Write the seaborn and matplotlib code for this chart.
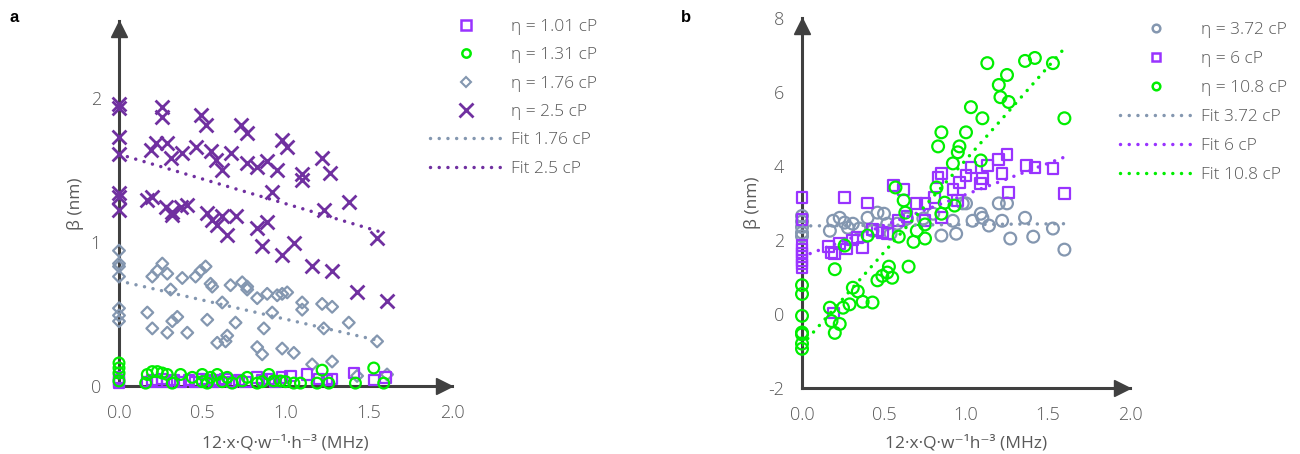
import numpy as np
import matplotlib
matplotlib.use("Agg")
import matplotlib.pyplot as plt
import matplotlib.transforms as mtransforms
from matplotlib.lines import Line2D
import seaborn as sns

# ---------------- data: panel a ----------------
a101_x = [0, 0, 0, 0, 0.17, 0.20, 0.23, 0.26, 0.29, 0.33, 0.37, 0.42, 0.46, 0.50, 0.53, 0.57, 0.60,
          0.64, 0.68, 0.72, 0.76, 0.83, 0.86, 0.90, 0.94, 0.98, 1.03, 1.13, 1.20, 1.25, 1.28, 1.41, 1.53, 1.60]
a101_y = [0.02, 0.04, 0.06, 0.03, 0.03, 0.04, 0.03, 0.05, 0.03, 0.04, 0.03, 0.04, 0.03, 0.05, 0.04, 0.03, 0.04,
          0.05, 0.03, 0.04, 0.03, 0.06, 0.04, 0.05, 0.03, 0.06, 0.07, 0.08, 0.05, 0.04, 0.05, 0.09, 0.04, 0.06]

a131_x = [0, 0, 0, 0, 0.16, 0.17, 0.20, 0.23, 0.26, 0.29, 0.32, 0.37, 0.44, 0.50, 0.50, 0.53, 0.55, 0.59, 0.62,
          0.65, 0.68, 0.74, 0.77, 0.83, 0.86, 0.90, 0.93, 0.97, 1.00, 1.05, 1.09, 1.19, 1.22, 1.26, 1.42, 1.53, 1.59]
a131_y = [0.16, 0.125, 0.09, 0.035, 0.02, 0.08, 0.10, 0.10, 0.09, 0.08, 0.02, 0.08, 0.06, 0.08, 0.03, 0.02, 0.06,
          0.08, 0.03, 0.06, 0.02, 0.035, 0.06, 0.02, 0.03, 0.08, 0.035, 0.035, 0.03, 0.02, 0.02, 0.02, 0.11, 0.02,
          0.02, 0.125, 0.02]

a176_x = [0, 0, 0, 0, 0, 0, 0, 0.17, 0.20, 0.20, 0.23, 0.26, 0.29, 0.29, 0.31, 0.32, 0.35, 0.38, 0.41, 0.46,
          0.49, 0.52, 0.53, 0.55, 0.56, 0.59, 0.62, 0.64, 0.65, 0.67, 0.70, 0.74, 0.77, 0.77, 0.83, 0.83, 0.86,
          0.87, 0.89, 0.92, 0.95, 0.98, 0.98, 1.01, 1.05, 1.10, 1.10, 1.16, 1.22, 1.23, 1.28, 1.28, 1.38, 1.43,
          1.55, 1.61]
a176_y = [0.94, 0.85, 0.83, 0.76, 0.54, 0.49, 0.45, 0.51, 0.76, 0.40, 0.80, 0.85, 0.78, 0.37, 0.67, 0.45, 0.48,
          0.75, 0.37, 0.76, 0.80, 0.83, 0.46, 0.71, 0.69, 0.30, 0.58, 0.31, 0.35, 0.70, 0.44, 0.72, 0.69, 0.67,
          0.61, 0.27, 0.22, 0.40, 0.64, 0.51, 0.63, 0.26, 0.64, 0.65, 0.23, 0.58, 0.53, 0.15, 0.57, 0.40, 0.55,
          0.17, 0.44, 0.07, 0.31, 0.08]

a25_x = [0, 0, 0, 0, 0, 0, 0, 0.19, 0.22, 0.26, 0.26, 0.29, 0.31, 0.38, 0.46, 0.49, 0.52, 0.55, 0.58, 0.62,
         0.67, 0.73, 0.77, 0.77, 0.83, 0.89, 0.95, 0.98, 1.01, 1.10, 1.10, 1.22, 1.27, 0.92, 0.17, 0.20, 0.28,
         0.32, 0.32, 0.37, 0.41, 0.53, 0.56, 0.59, 0.62, 0.65, 0.70, 0.83, 0.89, 0.86, 0.98, 1.05, 1.16, 1.23,
         1.28, 1.38, 1.43, 1.55, 1.61]
a25_y = [1.96, 1.93, 1.73, 1.61, 1.34, 1.31, 1.22, 1.64, 1.69, 1.94, 1.87, 1.69, 1.58, 1.62, 1.66, 1.88, 1.81,
         1.63, 1.57, 1.50, 1.62, 1.81, 1.76, 1.55, 1.52, 1.56, 1.50, 1.71, 1.66, 1.47, 1.43, 1.58, 1.48, 1.35,
         1.29, 1.31, 1.24, 1.21, 1.19, 1.24, 1.26, 1.20, 1.15, 1.12, 1.18, 1.05, 1.18, 1.10, 1.14, 0.97, 0.91,
         0.99, 0.83, 1.22, 0.80, 1.28, 0.65, 1.03, 0.59]

fit_a176_x = [0.0, 1.58]
fit_a176_y = [0.73, 0.31]
fit_a25_x = [0.0, 1.60]
fit_a25_y = [1.61, 1.06]

# ---------------- data: panel b ----------------
b372_x = [0, 0, 0, 0, 0, 0.17, 0.19, 0.23, 0.26, 0.28, 0.31, 0.35, 0.40, 0.43, 0.46, 0.50, 0.52, 0.54, 0.58,
          0.64, 0.74, 0.80, 0.85, 0.92, 0.94, 0.98, 1.00, 1.04, 1.09, 1.10, 1.14, 1.20, 1.22, 1.25, 1.27, 1.36,
          1.41, 1.53, 1.60]
b372_y = [2.65, 2.50, 2.35, 2.20, 2.10, 2.25, 2.52, 2.60, 2.47, 2.33, 2.44, 2.31, 2.60, 2.25, 2.74, 2.71, 2.44,
          2.17, 2.44, 2.58, 2.58, 2.71, 2.12, 2.52, 2.17, 2.99, 2.99, 2.52, 2.71, 2.60, 2.39, 2.99, 2.52, 2.99,
          2.04, 2.60, 2.09, 2.31, 1.74]

b6_x = [0, 0, 0, 0, 0, 0, 0, 0, 0, 0.16, 0.18, 0.20, 0.19, 0.23, 0.26, 0.27, 0.31, 0.34, 0.37, 0.40, 0.43,
        0.46, 0.49, 0.52, 0.56, 0.59, 0.62, 0.64, 0.70, 0.75, 0.75, 0.81, 0.83, 0.85, 0.85, 0.92, 0.95, 0.96,
        1.00, 1.03, 1.09, 1.10, 1.13, 1.20, 1.22, 1.25, 1.26, 1.37, 1.42, 1.53, 1.60]
b6_y = [3.15, 2.55, 1.85, 1.75, 1.65, 1.55, 1.45, 1.35, 1.25, 1.82, 1.66, 1.63, 0.03, 1.90, 3.15, 1.76, 2.00,
        2.06, 1.79, 3.00, 2.28, 2.25, 2.20, 2.17, 3.47, 2.52, 3.37, 2.63, 2.98, 2.98, 2.52, 3.15, 3.69, 3.80,
        2.60, 3.37, 3.07, 3.56, 3.74, 3.96, 3.53, 3.66, 4.02, 4.18, 3.80, 4.31, 3.28, 4.02, 3.96, 3.93, 3.26]

b108_x = [0, 0, 0, 0, 0, 0, 0, 0.17, 0.18, 0.20, 0.20, 0.23, 0.25, 0.26, 0.29, 0.31, 0.34, 0.37, 0.40, 0.43,
          0.46, 0.49, 0.52, 0.53, 0.55, 0.57, 0.59, 0.62, 0.63, 0.65, 0.68, 0.70, 0.75, 0.75, 0.82, 0.83, 0.85,
          0.85, 0.87, 0.92, 0.93, 0.95, 0.96, 1.00, 1.03, 1.09, 1.10, 1.13, 1.20, 1.21, 1.25, 1.26, 1.36, 1.42,
          1.53, 1.60]
b108_y = [0.78, 0.54, -0.05, -0.50, -0.55, -0.80, -0.94, 0.17, -0.19, 1.21, -0.51, -0.27, 0.17, 1.85, 0.26,
          0.71, 0.61, 0.33, 2.12, 0.31, 0.91, 1.03, 1.12, 1.28, 0.98, 3.42, 2.09, 3.07, 2.74, 1.28, 1.95, 2.25,
          2.04, 2.42, 3.42, 4.53, 4.91, 2.71, 3.01, 4.07, 2.93, 4.37, 4.53, 4.91, 5.59, 4.15, 5.29, 6.78, 6.19,
          5.86, 6.46, 5.73, 6.84, 6.92, 6.78, 5.29]

fit_b372_x = [0.0, 1.60]
fit_b372_y = [2.38, 2.44]
fit_b6_x = [0.0, 1.60]
fit_b6_y = [1.55, 4.24]
fit_b108_x = [0.0, 1.60]
fit_b108_y = [-0.84, 7.18]

x_ticks = [0.0, 0.5, 1.0, 1.5, 2.0]
x_ticklabels = ["0.0", "0.5", "1.0", "1.5", "2.0"]
a_yticks = [0, 1, 2]
b_yticks = [-2, 0, 2, 4, 6, 8]
b_yminor = [-1, 1, 3, 5, 7]

labels_a = ["η = 1.01 cP", "η = 1.31 cP", "η = 1.76 cP", "η = 2.5 cP", "Fit 1.76 cP", "Fit 2.5 cP"]
labels_b = ["η = 3.72 cP", "η = 6 cP", "η = 10.8 cP", "Fit 3.72 cP", "Fit 6 cP", "Fit 10.8 cP"]
xlabel_a = "12·x·Q·w⁻¹·h⁻³ (MHz)"
xlabel_b = "12·x·Q·w⁻¹h⁻³ (MHz)"
ylabel = "β (nm)"

# ---------------- style ----------------
sns.set_style("white")
plt.rcParams["font.family"] = ["Open Sans", "DejaVu Sans"]
plt.rcParams["font.weight"] = "light"
plt.rcParams["axes.unicode_minus"] = False

TXT = "#595959"
AXC = "#404040"
C_PURPLE = "#9933ff"
C_DARK = "#7030a0"
C_GREEN = "#00ee00"
C_GRAY = "#8497b0"
DOT = (0, (0.01, 2.5))

fig = plt.figure(figsize=(13, 4.54), dpi=100)
ax_a = fig.add_axes([119 / 1300, 68 / 454, 333 / 1300, 365 / 454])
ax_b = fig.add_axes([802 / 1300, 66 / 454, 328 / 1300, 370 / 454])


def hollow(ax, x, y, marker, color, s, lw, z):
    sns.scatterplot(x=np.asarray(x), y=np.asarray(y), ax=ax, marker=marker, s=s,
                    facecolor="none", edgecolor=color, linewidth=lw,
                    clip_on=False, zorder=z, legend=False)


def fit(ax, x, y, color, z=6):
    sns.lineplot(x=np.asarray(x), y=np.asarray(y), ax=ax, color=color, linewidth=2.5,
                 linestyle=DOT, dash_capstyle="round", sort=False, estimator=None,
                 zorder=z, legend=False)


def style_axes(ax, xlim, ylim, yticks, ylabels, xlabel, xlab_y, ylab_x):
    ax.set_xlim(*xlim)
    ax.set_ylim(*ylim)
    ax.set_xticks(x_ticks)
    ax.set_xticklabels(x_ticklabels)
    ax.set_yticks(yticks)
    ax.set_yticklabels(ylabels)
    for side in ["top", "right"]:
        ax.spines[side].set_visible(False)
    for side in ["left", "bottom"]:
        ax.spines[side].set_color(AXC)
        ax.spines[side].set_linewidth(2.2)
        ax.spines[side].set_zorder(3)
    ax.tick_params(which="both", direction="in", length=5, width=2, color=AXC,
                   labelcolor=TXT, labelsize=13)
    ax.tick_params(axis="x", pad=13)
    ax.tick_params(axis="y", pad=13)
    ax.set_xlabel(xlabel, fontsize=12.5, color=TXT)
    ax.set_ylabel(ylabel, fontsize=12.5, color=TXT)
    ax.xaxis.set_label_coords(0.5, xlab_y)
    ax.yaxis.set_label_coords(ylab_x, 0.5)
    ax.grid(False)
    ax.set_facecolor("none")
    # arrow heads
    ms = 12.2
    off = ms / 2 / 72
    tr_x = ax.transAxes + mtransforms.ScaledTranslation(-off, 0, fig.dpi_scale_trans)
    tr_y = ax.transAxes + mtransforms.ScaledTranslation(0, -off, fig.dpi_scale_trans)
    ax.plot([1], [0], marker=">", ms=ms, color=AXC, transform=tr_x, clip_on=False, zorder=4)
    ax.plot([0], [1], marker="^", ms=ms, color=AXC, transform=tr_y, clip_on=False, zorder=4)


# ---------------- panel a ----------------
hollow(ax_a, a176_x, a176_y, "D", C_GRAY, 36, 1.6, 4)
sns.scatterplot(x=np.asarray(a25_x), y=np.asarray(a25_y), ax=ax_a, marker="x", s=100,
                color=C_DARK, linewidth=2, clip_on=False, zorder=4, legend=False)
hollow(ax_a, a101_x, a101_y, "s", C_PURPLE, 55, 1.6, 4)
hollow(ax_a, a131_x, a131_y, "o", C_GREEN, 60, 1.6, 5)
fit(ax_a, fit_a176_x, fit_a176_y, C_GRAY)
fit(ax_a, fit_a25_x, fit_a25_y, C_DARK)
style_axes(ax_a, (0, 2.0), (0, 365 / 144), a_yticks, [str(v) for v in a_yticks],
           xlabel_a, -0.135, -0.105)

# ---------------- panel b ----------------
hollow(ax_b, b372_x, b372_y, "o", C_GRAY, 72, 1.6, 4)
hollow(ax_b, b6_x, b6_y, "s", C_PURPLE, 60, 1.6, 4)
hollow(ax_b, b108_x, b108_y, "o", C_GREEN, 72, 1.6, 5)
fit(ax_b, fit_b372_x, fit_b372_y, C_GRAY)
fit(ax_b, fit_b6_x, fit_b6_y, C_PURPLE)
fit(ax_b, fit_b108_x, fit_b108_y, C_GREEN)
style_axes(ax_b, (0, 2.0), (-2, 8), b_yticks, [str(v) for v in b_yticks],
           xlabel_b, -0.127, -0.125)
ax_b.set_yticks(b_yminor, minor=True)

# ---------------- legends ----------------
def mk(marker, color, ms, mew):
    return Line2D([], [], ls="none", marker=marker, ms=ms, mfc="none", mec=color, mew=mew)


def ln(color):
    return Line2D([], [], color=color, lw=2.5, ls=DOT, dash_capstyle="round")


handles_a = [mk("s", C_PURPLE, 6.5, 1.8), mk("o", C_GREEN, 6, 1.8), mk("D", C_GRAY, 5.5, 1.5),
             Line2D([], [], ls="none", marker="x", ms=10, mec=C_DARK, mew=2),
             ln(C_GRAY), ln(C_DARK)]
handles_b = [mk("o", C_GRAY, 5.5, 1.8), mk("s", C_PURPLE, 5.5, 1.8), mk("o", C_GREEN, 5.5, 1.8),
             ln(C_GRAY), ln(C_PURPLE), ln(C_GREEN)]

leg_kw = dict(loc="upper left", frameon=False, fontsize=12.5, handlelength=4.2,
              handletextpad=0.45, borderpad=0, borderaxespad=0, labelcolor=TXT)
fig.legend(handles_a, labels_a, bbox_to_anchor=(430 / 1300, 1 - 19 / 454),
           labelspacing=0.70, **leg_kw)
fig.legend(handles_b, labels_b, bbox_to_anchor=(1120 / 1300, 1 - 22 / 454),
           labelspacing=0.74, **leg_kw)

fig.text(10 / 1300, 1 - 18 / 454, "a", fontsize=12, fontweight="bold", color="black",
         va="center", family=["Liberation Sans", "DejaVu Sans"])
fig.text(681 / 1300, 1 - 18 / 454, "b", fontsize=12, fontweight="bold", color="black",
         va="center", family=["Liberation Sans", "DejaVu Sans"])

fig.savefig("out.png", dpi=100)
